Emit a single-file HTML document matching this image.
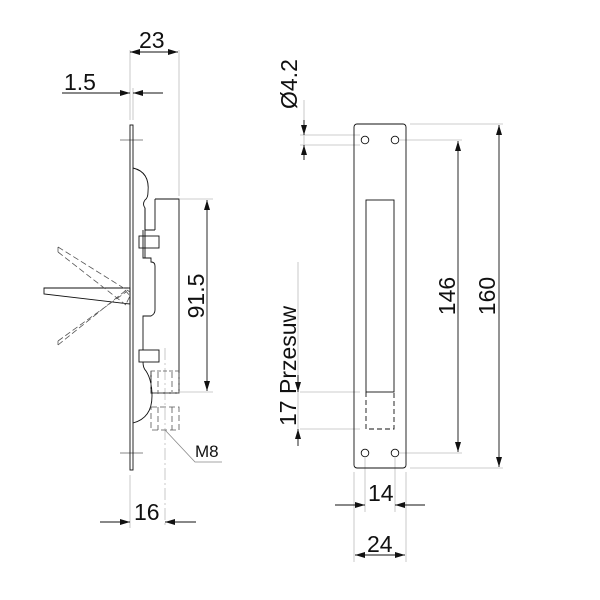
<!DOCTYPE html>
<html><head><style>
html,body{margin:0;padding:0;background:#fff;}
svg{display:block;}
text{font-family:"Liberation Sans",sans-serif;fill:#111;}
</style></head><body>
<svg width="600" height="600" viewBox="0 0 600 600" xmlns="http://www.w3.org/2000/svg">
<defs>
<marker id="a" viewBox="0 0 10 6" refX="10" refY="3" markerWidth="10" markerHeight="6" orient="auto-start-reverse" markerUnits="userSpaceOnUse">
<path d="M0,0 L10,3 L0,6 z" fill="#111"/></marker>
</defs>
<g stroke="#bbb" stroke-width="0.8" fill="none">
<line x1="130" y1="50" x2="130" y2="120"/>
<line x1="179" y1="50" x2="179" y2="196"/>
<line x1="133" y1="88" x2="133" y2="120"/>
<line x1="130" y1="475" x2="130" y2="528"/>
<line x1="165" y1="348" x2="165" y2="528" stroke-dasharray="12,3,2,3"/>
<line x1="180" y1="199" x2="213" y2="199"/>
<line x1="180" y1="392" x2="213" y2="392"/>
<line x1="300" y1="135" x2="360" y2="135"/>
<line x1="300" y1="145" x2="360" y2="145"/>
<line x1="410" y1="124" x2="503" y2="124"/>
<line x1="410" y1="468" x2="503" y2="468"/>
<line x1="400" y1="140" x2="462" y2="140"/>
<line x1="400" y1="453" x2="462" y2="453"/>
<line x1="300" y1="392" x2="360" y2="392"/>
<line x1="300" y1="429" x2="360" y2="429"/>
<line x1="298" y1="262" x2="298" y2="445"/>
<line x1="304" y1="100" x2="304" y2="160"/>
<line x1="365" y1="458" x2="365" y2="512"/>
<line x1="395" y1="458" x2="395" y2="512"/>
<line x1="354" y1="472" x2="354" y2="562"/>
<line x1="406" y1="472" x2="406" y2="562"/>
</g>
<g stroke="#111" stroke-width="0.9" fill="none">
<line x1="130" y1="52" x2="178" y2="52" marker-start="url(#a)" marker-end="url(#a)"/>
<line x1="62" y1="93" x2="130" y2="93" marker-end="url(#a)"/>
<line x1="163" y1="93" x2="133" y2="93" marker-end="url(#a)"/>
<line x1="207" y1="200" x2="207" y2="391" marker-start="url(#a)" marker-end="url(#a)"/>
<line x1="100" y1="522" x2="130" y2="522" marker-end="url(#a)"/>
<line x1="196" y1="522" x2="165" y2="522" marker-end="url(#a)"/>
<line x1="304" y1="120" x2="304" y2="135" marker-end="url(#a)"/>
<line x1="304" y1="160" x2="304" y2="145" marker-end="url(#a)"/>
<line x1="499" y1="125" x2="499" y2="467" marker-start="url(#a)" marker-end="url(#a)"/>
<line x1="458" y1="141" x2="458" y2="452" marker-start="url(#a)" marker-end="url(#a)"/>
<line x1="298" y1="375" x2="298" y2="392" marker-end="url(#a)"/>
<line x1="298" y1="446" x2="298" y2="429" marker-end="url(#a)"/>
<line x1="335" y1="505" x2="365" y2="505" marker-end="url(#a)"/>
<line x1="425" y1="505" x2="395" y2="505" marker-end="url(#a)"/>
<line x1="355" y1="555" x2="405" y2="555" marker-start="url(#a)" marker-end="url(#a)"/>
<rect x="354" y="124" width="52" height="344" rx="3"/>
<circle cx="365" cy="140" r="3.8"/><circle cx="395" cy="140" r="3.8"/>
<circle cx="365" cy="453" r="3.8"/><circle cx="395" cy="453" r="3.8"/>
<rect x="366" y="200" width="28" height="192"/>
<path d="M366,392 V429 H394 V392" stroke-dasharray="5,3"/>
<rect x="130" y="125" width="3" height="345"/>
<line x1="120" y1="140" x2="143" y2="140" stroke-width="0.6"/>
<line x1="120" y1="453" x2="143" y2="453" stroke-width="0.6"/>
<path d="M133,168 Q150,172 148,192 Q148,198 145,200 Q142,204 145,208 V230 H155"/>
<path d="M155,199 H179 V393 H151 V371"/>
<path d="M143,230 V258 H151 V262 Q155,262 155,266 V310 Q155,314 151,316 H143 V350"/>
<path d="M145,208 V258 M155,199 V230"/>
<rect x="139" y="236" width="20" height="12"/>
<rect x="139" y="350" width="20" height="12"/>
<path d="M143,362 Q143,368 146,371 Q152,380 152,396 Q152,418 133,423"/>
<line x1="151" y1="371" x2="151" y2="393"/>
<path d="M44,288 H130 V304 L44,294 Z"/>
</g>
<g stroke="#555" stroke-width="0.8" fill="none" stroke-dasharray="6,3">
<path d="M58,247 L130,292 M58,252 L126,305 M58,247 L58,252"/>
<path d="M58,345 L130,287 M58,341 L126,292 M58,341 L58,345"/>
<path d="M125,290 L130,296 L126,304"/>
<rect x="151" y="371" width="28" height="22" stroke-dasharray="4,2"/>
<line x1="158" y1="372" x2="158" y2="392"/><line x1="172" y1="372" x2="172" y2="392"/>
<rect x="151" y="407" width="28" height="23"/>
<line x1="158" y1="407" x2="158" y2="430"/><line x1="172" y1="407" x2="172" y2="430"/>
</g>
<path d="M165,430 L195,462 H222" stroke="#888" stroke-width="0.8" fill="none"/>
<g font-size="23">
<text x="139" y="48">23</text>
<text x="64" y="90">1.5</text>
<text x="134" y="520">16</text>
<text x="195" y="457" font-size="17">M8</text>
<text x="368" y="501">14</text>
<text x="367" y="552">24</text>
<text transform="translate(204,296) rotate(-90)" text-anchor="middle">91.5</text>
<text transform="translate(455,296) rotate(-90)" text-anchor="middle">146</text>
<text transform="translate(495,296) rotate(-90)" text-anchor="middle">160</text>
<text transform="translate(297,109) rotate(-90)">Ø4.2</text>
<text transform="translate(296,426) rotate(-90)">17 Przesuw</text>
</g>
</svg>
</body></html>
